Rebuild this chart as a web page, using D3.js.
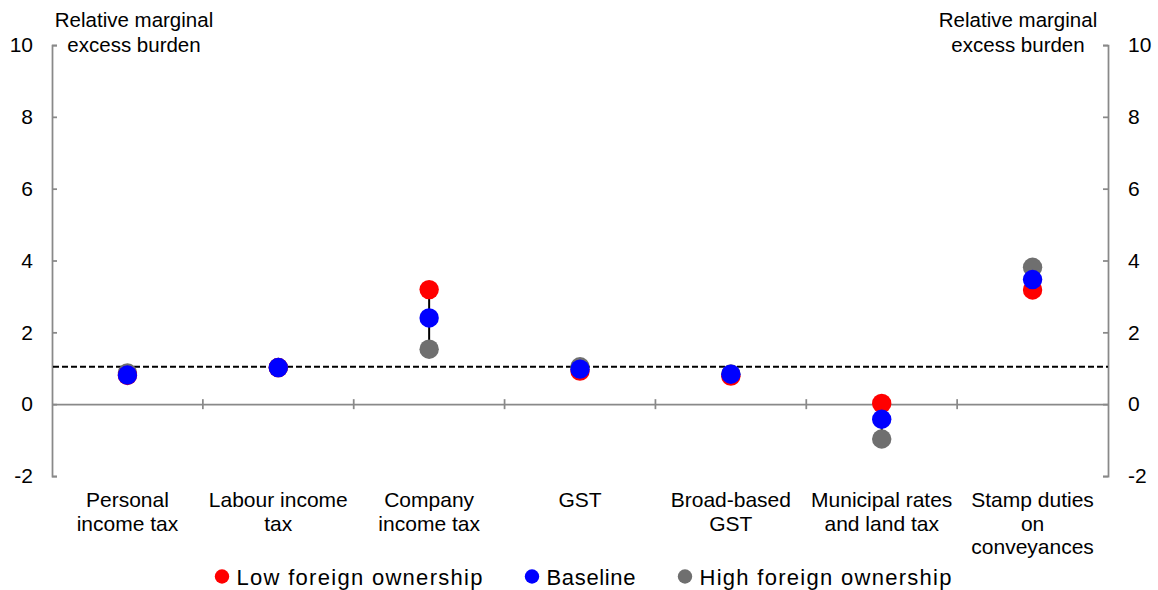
<!DOCTYPE html>
<html>
<head>
<meta charset="utf-8">
<script src="https://cdn.jsdelivr.net/npm/d3@7"></script>
<style>
  html, body { margin: 0; padding: 0; background: #fff; }
  svg { display: block; }
  text { font-family: "Liberation Sans", Arial, sans-serif; fill: #000; }
</style>
</head>
<body>
<svg id="chart" width="1158" height="590"></svg>
<script>
// ---- data ----
const categories = [
  ["Personal", "income tax"],
  ["Labour income", "tax"],
  ["Company", "income tax"],
  ["GST"],
  ["Broad-based", "GST"],
  ["Municipal rates", "and land tax"],
  ["Stamp duties", "on", "conveyances"]
];
const seriesNames = ["High foreign ownership", "Low foreign ownership", "Baseline"];
const lowForeign  = [0.80, 1.02, 3.19, 0.92, 0.78, 0.02, 3.18];
const baseline    = [0.81, 1.02, 2.40, 0.975, 0.835, -0.42, 3.47];
const highForeign = [0.87, 1.02, 1.53, 1.04, 0.84, -0.97, 3.81];
const yTicks = [-2, 0, 2, 4, 6, 8, 10];
const yTickLabels = ["-2", "0", "2", "4", "6", "8", "10"];
const threshold = 1.04;
const axisTitle = ["Relative marginal", "excess burden"];
const legendItems = ["Low foreign ownership", "Baseline", "High foreign ownership"];

(function () {
// ---- setup ----
const colors = {
  "Low foreign ownership": "#ff0000",
  "Baseline": "#0000ff",
  "High foreign ownership": "#6f6f6f"
};
const svg = d3.select("#chart");
const pLeft = 52, pRight = 1108, pTop = 45, pBottom = 476;
const catKeys = categories.map(c => c.join(" "));
const x = d3.scaleBand().domain(catKeys).range([pLeft, pRight]).padding(0);
const y = d3.scaleLinear().domain([-2, 10]).range([pBottom, pTop]);
const axisColor = "#898989";
const fmt = d => yTickLabels[yTicks.indexOf(d)];

// left axis
const gl = svg.append("g").attr("transform", `translate(${pLeft},0)`)
  .call(d3.axisLeft(y).tickValues(yTicks).tickSize(-5).tickPadding(19).tickFormat(fmt));
// right axis
const gr = svg.append("g").attr("transform", `translate(${pRight},0)`)
  .call(d3.axisRight(y).tickValues(yTicks).tickSize(-5).tickPadding(20).tickFormat(fmt));
[gl, gr].forEach(g => {
  g.select(".domain").attr("stroke", axisColor).attr("stroke-width", 1.75);
  g.selectAll(".tick line").attr("stroke", axisColor).attr("stroke-width", 1.75);
  g.selectAll(".tick text").attr("font-size", 21).attr("font-family", "Liberation Sans, Arial, sans-serif").attr("fill", "#000");
});

// x axis along zero
const gx = svg.append("g").attr("transform", `translate(0,${y(0)})`)
  .call(d3.axisBottom(x).tickSize(0).tickFormat(""));
gx.select(".domain").attr("stroke", axisColor).attr("stroke-width", 1.75);
gx.selectAll(".tick").remove();
const bounds = catKeys.map(k => x(k)).slice(1);
gx.selectAll("line.bound").data(bounds).enter().append("line")
  .attr("class", "bound")
  .attr("x1", d => d).attr("x2", d => d)
  .attr("y1", -5).attr("y2", 5)
  .attr("stroke", axisColor).attr("stroke-width", 1.75);

// category labels
const labels = svg.append("g");
categories.forEach((lines, i) => {
  const cx = x(catKeys[i]) + x.bandwidth() / 2;
  const t = labels.append("text").attr("text-anchor", "middle").attr("font-size", 21);
  lines.forEach((ln, j) => {
    t.append("tspan").attr("x", cx).attr("y", 507 + j * 23.7).text(ln);
  });
});

// axis titles
[134, 1018].forEach(ax => {
  const t = svg.append("text").attr("text-anchor", "middle").attr("font-size", 20.5);
  axisTitle.forEach((ln, j) => {
    t.append("tspan").attr("x", ax).attr("y", 27 + j * 25).text(ln);
  });
});

// threshold dashed line
svg.append("line")
  .attr("x1", pLeft + 1).attr("x2", pRight)
  .attr("y1", y(threshold)).attr("y2", y(threshold))
  .attr("stroke", "#000").attr("stroke-width", 2).attr("stroke-dasharray", "6,3");

// high-low lines
const rows = catKeys.map((k, i) => ({
  key: k,
  vals: { "Low foreign ownership": lowForeign[i], "Baseline": baseline[i], "High foreign ownership": highForeign[i] }
}));
svg.append("g").selectAll("line").data(rows).enter().append("line")
  .attr("x1", d => x(d.key) + x.bandwidth() / 2)
  .attr("x2", d => x(d.key) + x.bandwidth() / 2)
  .attr("y1", d => y(d3.max(Object.values(d.vals))))
  .attr("y2", d => y(d3.min(Object.values(d.vals))))
  .attr("stroke", "#000").attr("stroke-width", 2);

// dots
seriesNames.forEach(s => {
  svg.append("g").selectAll("circle").data(rows).enter().append("circle")
    .attr("cx", d => x(d.key) + x.bandwidth() / 2)
    .attr("cy", d => y(d.vals[s]))
    .attr("r", 9.7)
    .attr("fill", colors[s]);
});

// legend
const legendPos = [222, 532, 685];
const legendW = [246, 89, 252];
const lg = svg.append("g");
legendItems.forEach((name, i) => {
  lg.append("circle").attr("cx", legendPos[i]).attr("cy", 576.5).attr("r", 7.2).attr("fill", colors[name]);
  lg.append("text").attr("x", legendPos[i] + 14.5).attr("y", 584.5)
    .attr("font-family", "'Open Sans', Lato, sans-serif").attr("font-size", 22)
    .attr("textLength", legendW[i]).attr("lengthAdjust", "spacing")
    .text(name);
});
})();
</script>
</body>
</html>
